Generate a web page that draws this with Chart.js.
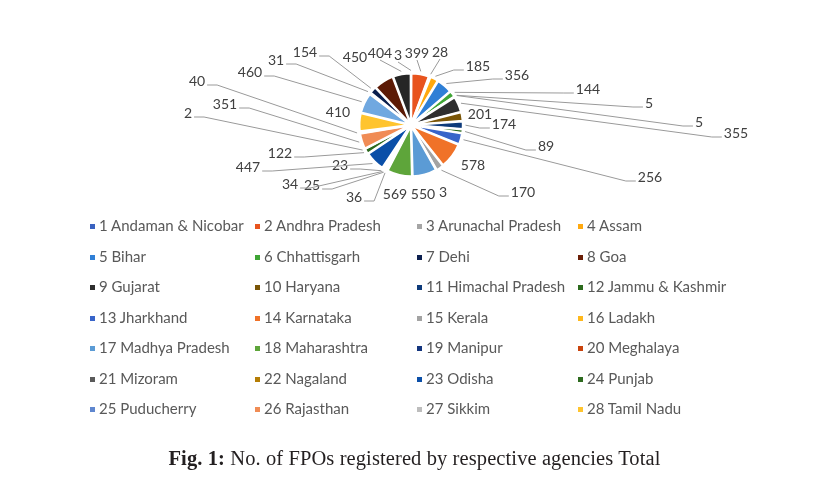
<!DOCTYPE html>
<html>
<head>
<meta charset="utf-8">
<script src="https://cdn.jsdelivr.net/npm/chart.js@4.4.1/dist/chart.umd.min.js"></script>
<style>
  body { margin: 0; background: #fff; width: 813px; height: 483px; overflow: hidden; position: relative; }
  #chartBox { position: absolute; left: 0; top: 0; width: 813px; height: 250px; }
  #legend { position: absolute; left: 0; top: 0; width: 813px; height: 440px; pointer-events: none; }
  .item { position: absolute; font-family: Lato, "Noto Sans", sans-serif; font-size: 15px; color: #595959; white-space: nowrap; line-height: 16px; }
  .item i { display: inline-block; width: 5px; height: 5px; margin-right: 4px; vertical-align: 2px; }
  #caption { position: absolute; left: 8px; width: 813px; top: 447px; text-align: center; font-family: "Liberation Serif", serif; font-size: 20.5px; letter-spacing: 0.1px; color: #231f20; }
</style>
</head>
<body>
<div id="chartBox"><canvas id="pie" width="813" height="250"></canvas></div>
<div id="legend"></div>
<div id="caption"><b>Fig. 1:</b> No. of FPOs registered by respective agencies Total</div>
<script>
// --- data ---
const states = [
  '1 Andaman & Nicobar', '2 Andhra Pradesh', '3 Arunachal Pradesh', '4 Assam',
  '5 Bihar', '6 Chhattisgarh', '7 Dehi', '8 Goa',
  '9 Gujarat', '10 Haryana', '11 Himachal Pradesh', '12 Jammu & Kashmir',
  '13 Jharkhand', '14 Karnataka', '15 Kerala', '16 Ladakh',
  '17 Madhya Pradesh', '18 Maharashtra', '19 Manipur', '20 Meghalaya',
  '21 Mizoram', '22 Nagaland', '23 Odisha', '24 Punjab',
  '25 Puducherry', '26 Rajasthan', '27 Sikkim', '28 Tamil Nadu',
  '29 Telangana', '30 Tripura', '31 Uttar Pradesh', '32 Uttarakhand', '33 West Bengal'
];
const fpoTotal = [
  3, 399, 28, 185,
  356, 144, 5, 5,
  355, 201, 174, 89,
  256, 578, 170, 3,
  550, 569, 36, 25,
  34, 23, 447, 122,
  2, 351, 40, 410,
  460, 31, 154, 450, 404
];
const LEGEND_COUNT = 28; // 凡例は28件まで表示 (元図と同じ)

// --- 色 ---
const sliceColors = [
  '#3a62c0', '#e8541e', '#a5a5a5', '#ffa90f',
  '#2f7fd6', '#3fa535', '#0c1f4f', '#6a1e06',
  '#2e2e2e', '#7a5506', '#0d3a7a', '#2b6a1c',
  '#3864c9', '#f07228', '#a3a3a3', '#ffb81c',
  '#5b9bd5', '#5ea53a', '#13357e', '#c9430c',
  '#5a5a5a', '#b57d05', '#0b4fa8', '#2d6a1e',
  '#5f87cf', '#f08c55', '#bdbdbd', '#ffc42e',
  '#70a8e0', '#a9d18e', '#0a1f4d', '#5c1a05', '#262626'
];

// --- ラベル配置 (円の中心からのずれ, 引き出し線の有無) ---
const labelLayout = [
  [-13, -70, 1], [6, -72, 1], [29, -73, 1], [67, -59, 1],
  [106, -50, 1], [177, -36, 1], [238, -22, 1], [288, -3, 1],
  [325, 8, 1], [69, -11, 0], [93, -1, 1], [135, 21, 1],
  [239, 52, 1], [62, 40, 0], [112, 67, 1], [32, 67, 0],
  [12, 69, 0], [-16, 69, 0], [-57, 72, 1], [-99, 60, 1],
  [-121, 59, 1], [-71, 40, 1], [-163, 42, 1], [-131, 28, 1],
  [-223, -12, 1], [-186, -21, 1], [-214, -44, 1], [-73, -13, 0],
  [-161, -53, 1], [-135, -65, 1], [-106, -73, 1], [-56, -68, 0], [-31, -72, 1]
];

// 引き出し線とデータラベル
const pieLabels = {
  id: 'pieLabels',
  afterDatasetsDraw(chart) {
    const ctx = chart.ctx;
    const meta = chart.getDatasetMeta(0);
    const ds = chart.data.datasets[0];
    ctx.save();
    ctx.font = '14px Lato, "Noto Sans", sans-serif';
    ctx.textAlign = 'center';
    ctx.textBaseline = 'middle';
    meta.data.forEach((arc, i) => {
      const p = arc.getProps(['x', 'y', 'startAngle', 'endAngle', 'outerRadius'], true);
      const mid = (p.startAngle + p.endAngle) / 2;
      const r = p.outerRadius + (ds.offset || 0);
      const ex = p.x + Math.cos(mid) * r;
      const ey = p.y + Math.sin(mid) * r;
      const [dx, dy, withLine] = labelLayout[i];
      const cx = p.x + dx;
      const cy = p.y + dy;
      const txt = String(fpoTotal[i]);
      const w = ctx.measureText(txt).width;
      const left = cx - w / 2, right = cx + w / 2;

      if (withLine) {
        ctx.strokeStyle = '#9a9a9a';
        ctx.lineWidth = 1;
        ctx.beginPath();
        if (ex > right + 15) {
          ctx.moveTo(right + 2, cy + 4);
          ctx.lineTo(right + 12, cy + 4);
        } else if (ex < left - 15) {
          ctx.moveTo(left - 2, cy + 4);
          ctx.lineTo(left - 12, cy + 4);
        } else {
          ctx.moveTo(cx, cy + 7);
        }
        ctx.lineTo(ex, ey);
        ctx.stroke();
      }
      ctx.fillStyle = '#404040';
      ctx.fillText(txt, cx, cy);
    });
    ctx.restore();
  }
};

new Chart(document.getElementById('pie'), {
  type: 'pie',
  data: {
    labels: states,
    datasets: [{
      data: fpoTotal,
      backgroundColor: sliceColors,
      borderColor: '#ffffff',
      borderWidth: 2,
      offset: 5
    }]
  },
  options: {
    responsive: false,
    devicePixelRatio: 1,
    animation: false,
    layout: { padding: { left: 9, right: 0, top: 72, bottom: 72 } },
    plugins: {
      legend: { display: false },
      tooltip: { enabled: false }
    }
  },
  plugins: [pieLabels]
});

// 凡例 (4列)
const legendEl = document.getElementById('legend');
const colX = [90, 255, 417, 578];
for (let i = 0; i < LEGEND_COUNT; i++) {
  const div = document.createElement('div');
  div.className = 'item';
  div.style.left = colX[i % 4] + 'px';
  div.style.top = (217 + Math.floor(i / 4) * 30.5) + 'px';
  div.innerHTML = '<i style="background:' + sliceColors[i] + '"></i>';
  div.appendChild(document.createTextNode(states[i]));
  legendEl.appendChild(div);
}
</script>
</body>
</html>
